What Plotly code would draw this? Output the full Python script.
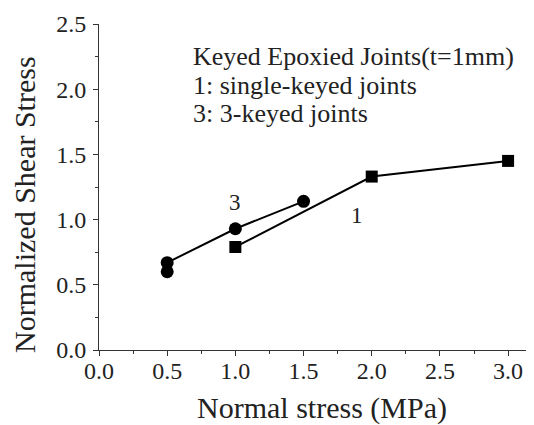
import plotly.graph_objects as go

# Data
x_single = [1.0, 2.0, 3.0]
y_single = [0.79, 1.33, 1.45]
x_three = [0.5, 0.5, 1.0, 1.5]
y_three = [0.60, 0.67, 0.93, 1.14]

x_ticks = [0.0, 0.5, 1.0, 1.5, 2.0, 2.5, 3.0]
y_ticks = [0.0, 0.5, 1.0, 1.5, 2.0, 2.5]

legend_lines = ["Keyed Epoxied Joints(t=1mm)", "1: single-keyed joints", "3: 3-keyed joints"]

FONT = "Liberation Serif"
TXT = "#222222"

fig = go.Figure()
fig.add_trace(go.Scatter(x=x_three, y=y_three, mode="lines+markers",
                         line=dict(color="black", width=2),
                         marker=dict(symbol="circle", size=13, color="black"),
                         showlegend=False))
fig.add_trace(go.Scatter(x=x_single, y=y_single, mode="lines+markers",
                         line=dict(color="black", width=2),
                         marker=dict(symbol="square", size=12, color="black"),
                         showlegend=False))

axis_common = dict(showgrid=False, zeroline=False, showline=True, linecolor="#333333",
                   linewidth=1, ticks="outside", ticklen=5, tickcolor="#333333",
                   tickfont=dict(family=FONT, size=24, color=TXT),
                   minor=dict(ticks="outside", ticklen=3, tickcolor="#333333"))

fig.update_xaxes(range=[0, 3.19], tickvals=x_ticks, ticktext=[f"{v:.1f}" for v in x_ticks],
                 minor_dtick=0.25, minor_tick0=0, ticklabelstandoff=-6, **axis_common)
fig.update_yaxes(range=[0, 2.5], tickvals=y_ticks, ticktext=[f"{v:.1f}" for v in y_ticks],
                 minor_dtick=0.25, minor_tick0=0, ticklabelstandoff=2, **axis_common)

ann = []
ann.append(dict(text="Normal stress (MPa)", xref="paper", yref="paper", x=0.513, y=-0.178,
                xanchor="center", yanchor="middle", showarrow=False,
                font=dict(family=FONT, size=30, color=TXT)))
ann.append(dict(text="Normalized Shear Stress", xref="paper", yref="paper", x=-0.170, y=0.445,
                xanchor="center", yanchor="middle", textangle=-90, showarrow=False,
                font=dict(family=FONT, size=30, color=TXT)))
ys = [2.25, 2.03, 1.81]
for t, yy in zip(legend_lines, ys):
    ann.append(dict(text=t, x=0.675, y=yy, xanchor="left", yanchor="middle", showarrow=False,
                    font=dict(family=FONT, size=26, color=TXT)))
ann.append(dict(text="3", x=1.0, y=1.13, showarrow=False, font=dict(family=FONT, size=23, color=TXT)))
ann.append(dict(text="1", x=1.89, y=1.035, showarrow=False, font=dict(family=FONT, size=23, color=TXT)))

fig.update_layout(width=526, height=417, margin=dict(l=91, r=0, t=16, b=75),
                  paper_bgcolor="white", plot_bgcolor="white", annotations=ann)

fig.write_html("out.html")
